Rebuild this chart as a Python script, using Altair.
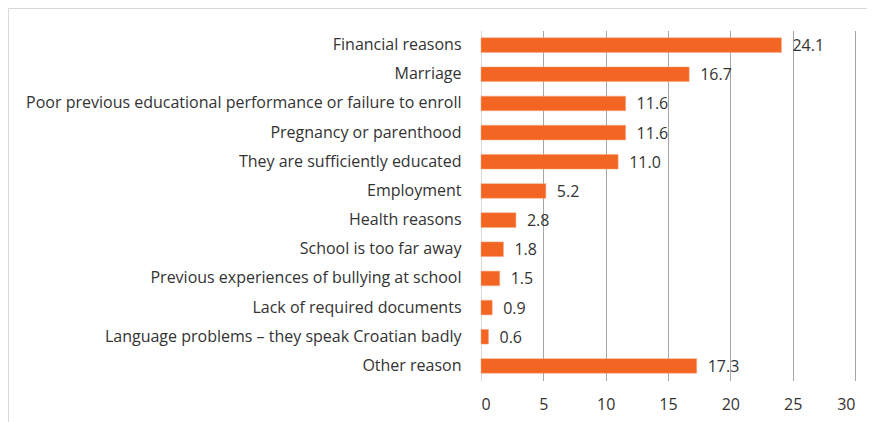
import altair as alt
import pandas as pd

reasons = [
    "Financial reasons",
    "Marriage",
    "Poor previous educational performance or failure to enroll",
    "Pregnancy or parenthood",
    "They are sufficiently educated",
    "Employment",
    "Health reasons",
    "School is too far away",
    "Previous experiences of bullying at school",
    "Lack of required documents",
    "Language problems – they speak Croatian badly",
    "Other reason",
]
values = [24.1, 16.7, 11.6, 11.6, 11.0, 5.2, 2.8, 1.8, 1.5, 0.9, 0.6, 17.3]
x_ticks = [0, 5, 10, 15, 20, 25, 30]

df = pd.DataFrame({"reason": reasons, "value": values})

FONT = "Open Sans"
FS = 16
ORANGE = "#F26522"
TXT = "#333333"

y_enc = alt.Y(
    "reason:N",
    sort=reasons,
    title=None,
    scale=alt.Scale(paddingInner=0.5, paddingOuter=0.25),
    axis=alt.Axis(
        ticks=False,
        domain=False,
        labelPadding=20,
        labelFont=FONT,
        labelFontSize=FS,
        labelColor=TXT,
        labelLimit=700,
    ),
)
x_enc = alt.X(
    "value:Q",
    title=None,
    scale=alt.Scale(domain=[0, 30], nice=False),
    axis=alt.Axis(
        values=x_ticks,
        ticks=False,
        domain=False,
        grid=True,
        gridColor={"condition": {"test": "datum.value === 0", "value": "#D9D9D9"}, "value": "#A6A6A6"},
        gridWidth=1,
        labelPadding=16,
        labelFont=FONT,
        labelFontSize=FS,
        labelColor=TXT,
    ),
)

bars = alt.Chart(df).mark_bar(color=ORANGE, stroke="#F7A57F", strokeWidth=0.5).encode(y=y_enc, x=x_enc)
labels = alt.Chart(df).mark_text(
    align="left", baseline="middle", dx=11, dy=1, font=FONT, fontSize=FS, color=TXT
).encode(y=alt.Y("reason:N", sort=reasons), x=alt.X("value:Q"), text=alt.Text("value:Q", format=".1f"))

frame = alt.Chart(pd.DataFrame({"a": [0]})).mark_rect(
    fill=None, stroke="#D9D9D9", strokeWidth=1
).encode(
    x=alt.value(-472.5), x2=alt.value(430), y=alt.value(-22), y2=alt.value(430)
)

chart = (
    alt.layer(frame, bars, labels)
    .properties(
        width=374,
        height=350,
        autosize=alt.AutoSizeParams(type="none"),
        padding={"left": 473, "top": 22.5, "right": 12, "bottom": 50},
        background="white",
    )
    .configure_view(stroke=None)
)

chart.save("out.html", embed_options={"renderer": "svg", "actions": False})
